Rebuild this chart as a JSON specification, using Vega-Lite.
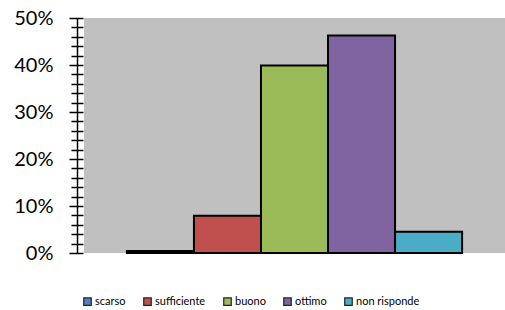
{
  "$schema": "https://vega.github.io/schema/vega-lite/v6.json",
  "autosize": {"type": "none"},
  "padding": {"left": 84, "top": 18, "right": 0, "bottom": 57},
  "width": 421,
  "height": 235,
  "background": "white",
  "config": {
    "view": {"fill": "#C0C0C0", "stroke": null},
    "font": "Lato"
  },
  "data": {
    "values": [
      {"risposta": "scarso", "quota": 0.004},
      {"risposta": "sufficiente", "quota": 0.079},
      {"risposta": "buono", "quota": 0.399},
      {"risposta": "ottimo", "quota": 0.463},
      {"risposta": "non risponde", "quota": 0.045}
    ]
  },
  "layer": [
    {
      "mark": {"type": "bar", "stroke": "black", "strokeWidth": 2},
      "encoding": {
        "x": {
          "field": "risposta", "type": "nominal",
          "scale": {"domain": ["scarso", "sufficiente", "buono", "ottimo", "non risponde"], "paddingInner": 0, "paddingOuter": 0.64},
          "axis": null
        },
        "y": {
          "field": "quota", "type": "quantitative",
          "scale": {"domain": [0, 0.5], "nice": false},
          "axis": {
            "orient": "left", "offset": 7, "title": null, "grid": false,
            "values": [0, 0.1, 0.2, 0.3, 0.4, 0.5],
            "format": ".0%",
            "tickSize": 8, "tickWidth": 1.5, "tickColor": "black",
            "domainColor": "black", "domainWidth": 1.5,
            "labelFont": "Lato", "labelFontSize": 20, "labelFontWeight": 400, "labelColor": "black",
            "labelPadding": 16, "labelFlush": false, "labelOverlap": false
          }
        },
        "color": {
          "field": "risposta", "type": "nominal",
          "scale": {
            "domain": ["scarso", "sufficiente", "buono", "ottimo", "non risponde"],
            "range": ["#4F81BD", "#C0504D", "#9BBB59", "#8064A2", "#4BACC6"]
          },
          "legend": {
            "orient": "none", "legendX": -2, "legendY": 278,
            "direction": "horizontal", "title": null,
            "symbolType": "square", "symbolSize": 56,
            "symbolStrokeColor": "#222", "symbolStrokeWidth": 1,
            "labelFont": "Lato", "labelFontSize": 11, "labelColor": "black",
            "columnPadding": 15, "labelOffset": 2,
            "encode": {
              "symbols": {"update": {"stroke": {"value": "#222"}, "strokeWidth": {"value": 1.2}}}
            }
          }
        }
      }
    },
    {
      "mark": {"type": "bar", "opacity": 0},
      "encoding": {
        "x": {"field": "risposta", "type": "nominal", "axis": null},
        "y": {
          "field": "quota", "type": "quantitative",
          "axis": {
            "orient": "left", "offset": 7, "title": null, "grid": false,
            "values": [0.02, 0.04, 0.06, 0.08, 0.12, 0.14, 0.16, 0.18, 0.22, 0.24, 0.26, 0.28, 0.32, 0.34, 0.36, 0.38, 0.42, 0.44, 0.46, 0.48],
            "labels": false, "domain": false,
            "tickSize": 6, "tickWidth": 1.5, "tickColor": "black"
          }
        }
      }
    },
    {
      "mark": {"type": "bar", "opacity": 0},
      "encoding": {
        "x": {"field": "risposta", "type": "nominal", "axis": null},
        "y": {
          "field": "quota", "type": "quantitative",
          "axis": {
            "orient": "left", "offset": 1, "title": null, "grid": false,
            "values": [0, 0.02, 0.04, 0.06, 0.08, 0.1, 0.12, 0.14, 0.16, 0.18, 0.2, 0.22, 0.24, 0.26, 0.28, 0.3, 0.32, 0.34, 0.36, 0.38, 0.4, 0.42, 0.44, 0.46, 0.48, 0.5],
            "labels": false, "domain": false,
            "tickSize": 6, "tickWidth": 1.5, "tickColor": "black"
          }
        }
      }
    }
  ],
  "resolve": {"axis": {"y": "independent"}}
}
